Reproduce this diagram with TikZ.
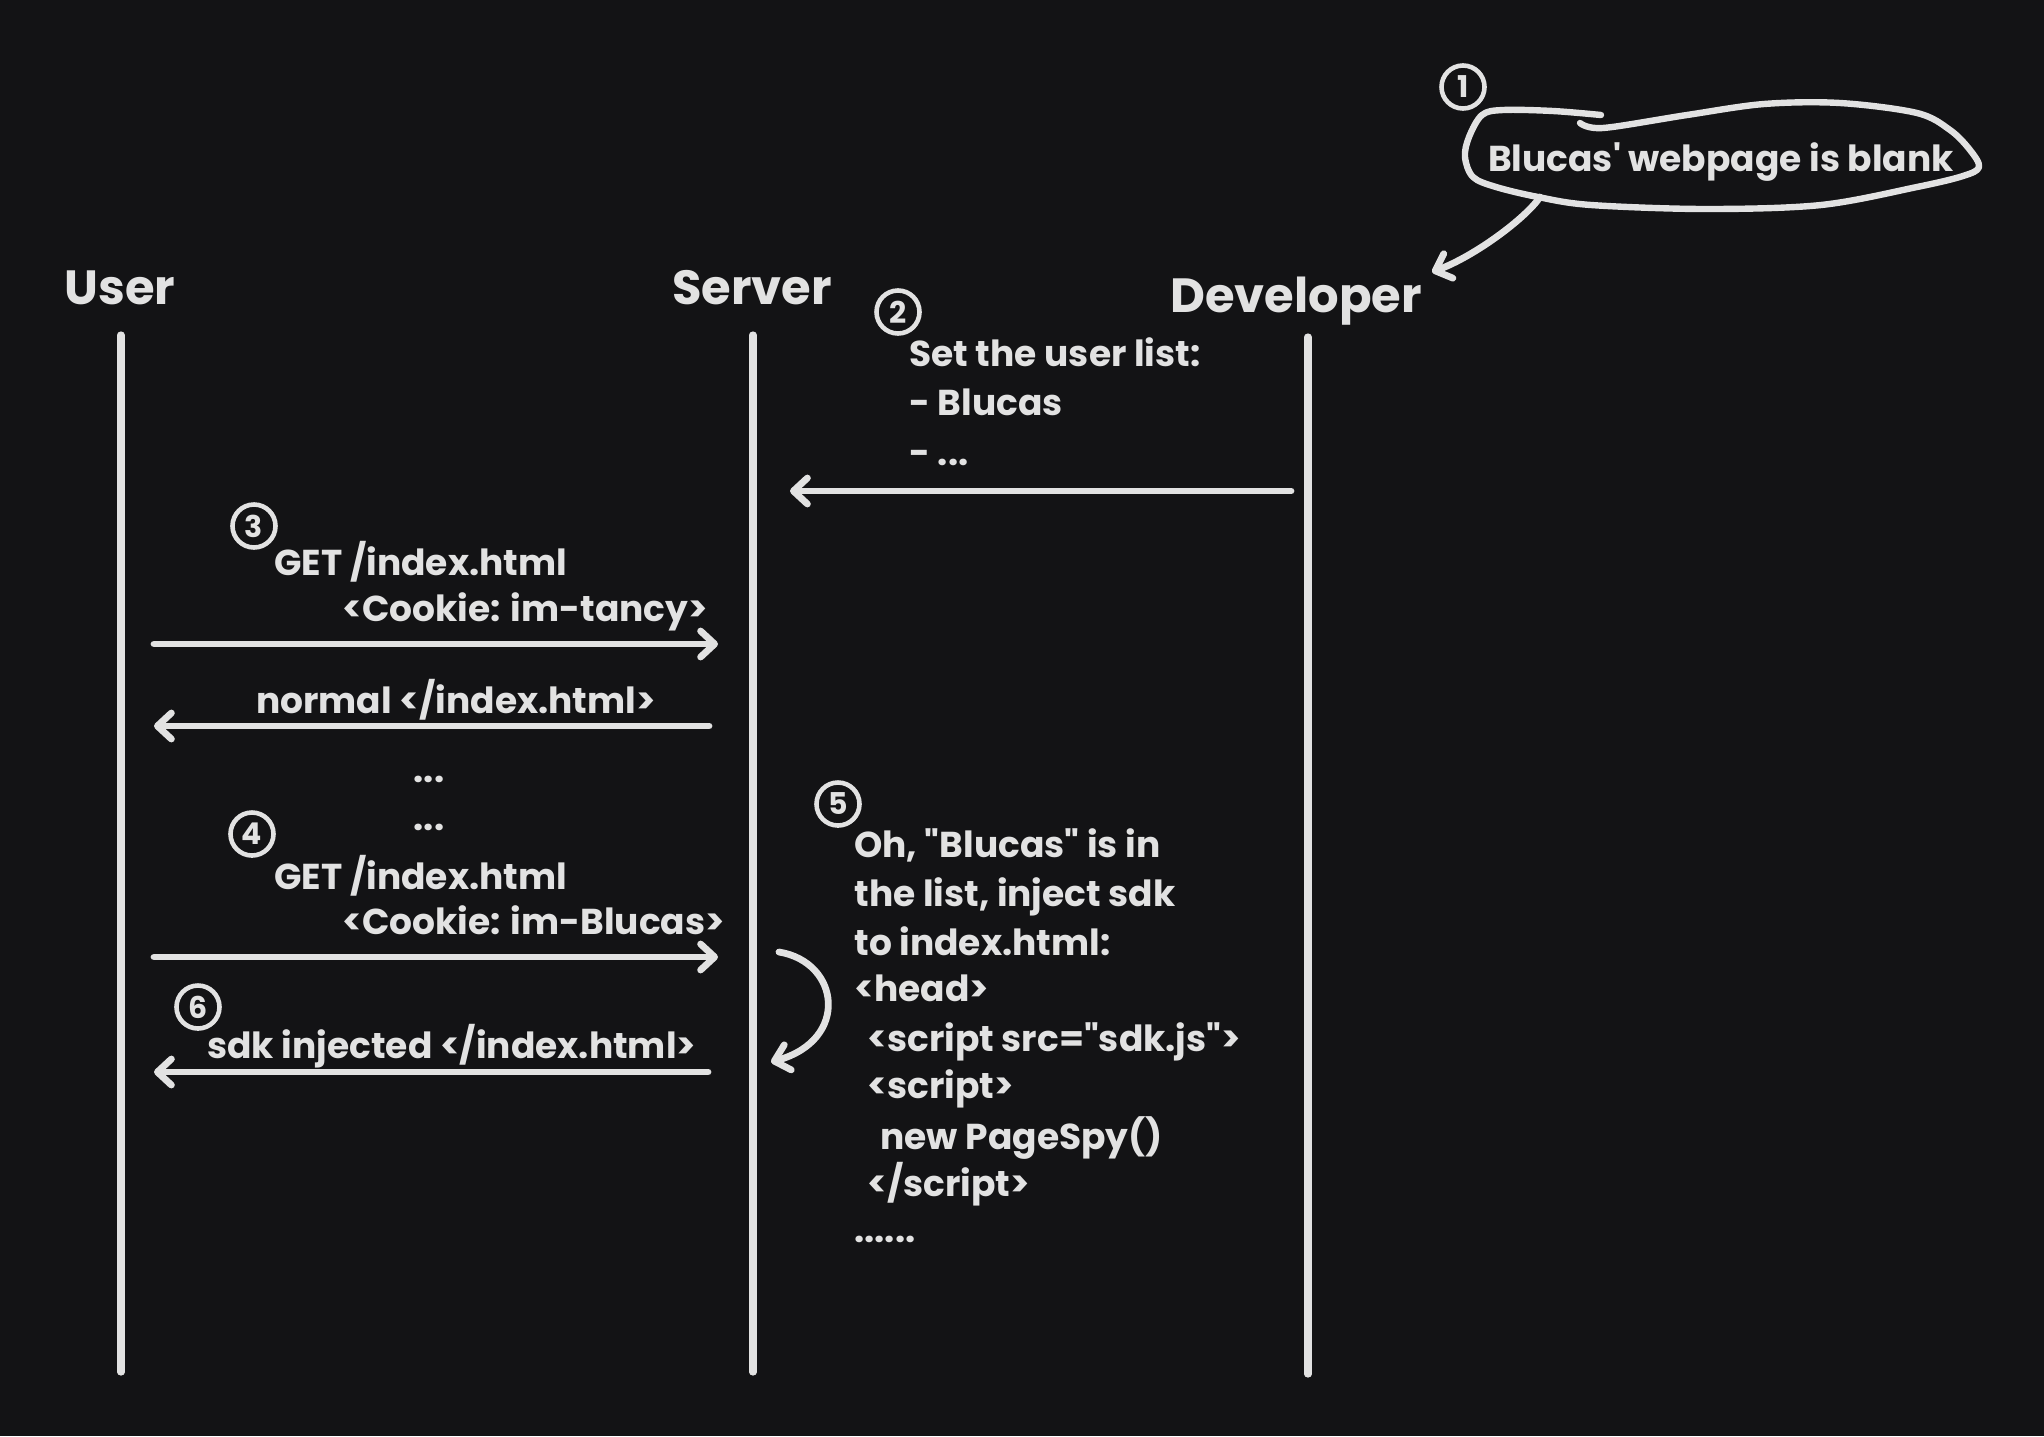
\documentclass[tikz,border=0pt]{standalone}
\usepackage{fontspec}
\setmainfont{Poppins}
\usetikzlibrary{arrows.meta}
\definecolor{bgc}{RGB}{19,19,21}
\definecolor{ink}{RGB}{226,226,226}
\begin{document}
\begin{tikzpicture}[x=0.5pt,y=-0.5pt,
  lifeline/.style={draw=ink,line width=3.6pt,line cap=round},
  msg/.style={draw=ink,line width=3.4pt,line cap=round,-{Straight Barb[length=7pt,width=13pt,round]}},
  txt/.style={text=ink,font=\fontsize{18}{22}\selectfont\bfseries,inner sep=0pt,anchor=west,text height=0.7em,text depth=0.2em},
  head/.style={text=ink,font=\fontsize{24}{28}\selectfont\bfseries,inner sep=0pt,text height=0.7em,text depth=0.2em},
  num/.style={circle,draw=ink,line width=2.3pt,text=ink,minimum size=21.5pt,inner sep=0pt,font=\fontsize{15}{15}\selectfont\bfseries}]
\fill[bgc] (0,0) rectangle (2044,1436);
\useasboundingbox (0,0) rectangle (2044,1436);

% headers
\node[head] (huser) at (120,299) {User};
\node[head] (hserver) at (752,299) {Server};
\node[head] (hdev) at (1296,307) {Developer};

% lifelines
\coordinate (u1) at (121,335); \coordinate (u2) at (121,1372);
\coordinate (s1) at (753,335); \coordinate (s2) at (753,1372);
\coordinate (d1) at (1308,337); \coordinate (d2) at (1308,1374);
\draw[lifeline] (u1) -- (u2);
\draw[lifeline] (s1) -- (s2);
\draw[lifeline] (d1) -- (d2);

% note 1
\node[num] (n1) at (1463,87) {1};
\draw[ink,line width=3.2pt,line cap=round,line join=round] plot[smooth,tension=0.55] coordinates {
 (1601,115) (1553,111) (1503,110) (1482,115) (1469,137) (1465,157) (1473,177) (1496,187)
 (1538,197) (1591,205) (1706,209) (1821,205) (1917,187) (1963,176) (1979,167) (1970,150)
 (1950,130) (1917,113) (1840,103) (1764,104) (1687,115) (1603,128) (1580,123)};
\node[txt,anchor=center] (t1) at (1721,166) {Blucas\textquotesingle\ webpage is blank};
\coordinate (b1) at (1540,197);
\coordinate (b2) at (1432,272);
\draw[msg] (b1) .. controls (1526,218) and (1475,256) .. (b2);

% note 2
\node[num] (n2) at (898,312) {2};
\node[txt] (l2a) at (909,361) {Set the user list:};
\node[txt] (l2b) at (909,410) {- Blucas};
\node[txt] (l2c) at (909,460) {- ...};
\coordinate (a2s) at (1291,491);
\coordinate (a2e) at (790,491);
\draw[msg] (a2s) -- (a2e);

% note 3
\node[num] (n3) at (254,526) {3};
\node[txt] (l3a) at (274,570) {GET /index.html};
\node[txt] (l3b) at (342,616) {<Cookie: im-tancy>};
\coordinate (a3s) at (154,644);
\coordinate (a3e) at (718,644);
\draw[msg] (a3s) -- (a3e);
\node[txt,anchor=center] (lnorm) at (456,708) {normal </index.html>};
\coordinate (a3rs) at (709,726);
\coordinate (a3re) at (154,726);
\draw[msg] (a3rs) -- (a3re);
\node[txt,anchor=center] (dots1) at (429,777) {...};
\node[txt,anchor=center] (dots2) at (429,825) {...};

% note 4
\node[num] (n4) at (252,834) {4};
\node[txt] (l4a) at (274,884) {GET /index.html};
\node[txt] (l4b) at (342,929) {<Cookie: im-Blucas>};
\coordinate (a4s) at (154,957);
\coordinate (a4e) at (718,957);
\draw[msg] (a4s) -- (a4e);

% note 6
\node[num] (n6) at (198,1007) {6};
\node[txt] (l6) at (207,1053) {sdk injected </index.html>};
\coordinate (a6s) at (708,1072);
\coordinate (a6e) at (154,1072);
\draw[msg] (a6s) -- (a6e);

% self arrow
\coordinate (c1) at (779,952);
\coordinate (c2) at (771,1062);
\draw[msg] (c1) .. controls (840,962) and (850,1040) .. (c2);

% note 5
\node[num] (n5) at (838,804) {5};
\node[txt] (l5a) at (854,852) {Oh, \textquotedbl Blucas\textquotedbl\ is in};
\node[txt] (l5b) at (854,901) {the list, inject sdk};
\node[txt] (l5c) at (854,950) {to index.html:};
\node[txt] (l5d) at (854,996) {<head>};
\node[txt] (l5e) at (867,1046) {<script src=\textquotedbl sdk.js\textquotedbl>};
\node[txt] (l5f) at (867,1093) {<script>};
\node[txt] (l5g) at (880,1144) {new PageSpy()};
\node[txt] (l5h) at (867,1191) {</script>};
\node[txt] (l5i) at (854,1237) {......};
\end{tikzpicture}
\end{document}
